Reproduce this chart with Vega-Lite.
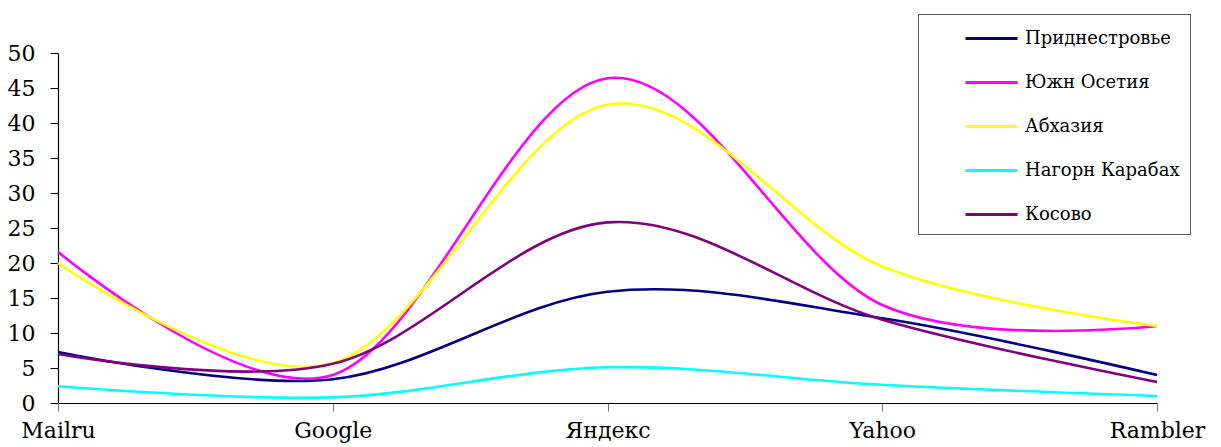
{
  "$schema": "https://vega.github.io/schema/vega-lite/v6.json",
  "width": 1099,
  "height": 350,
  "autosize": {"type": "none"},
  "padding": {"left": 58, "top": 53, "right": 64, "bottom": 44},
  "background": "white",
  "config": {
    "view": {"stroke": null},
    "font": "DejaVu Serif"
  },
  "data": {
    "values": [
      {"series": "Приднестровье", "engine": "Mailru", "value": 7.3},
      {"series": "Приднестровье", "engine": "Google", "value": 3.4},
      {"series": "Приднестровье", "engine": "Яндекс", "value": 15.9},
      {"series": "Приднестровье", "engine": "Yahoo", "value": 12.1},
      {"series": "Приднестровье", "engine": "Rambler", "value": 4},
      {"series": "Южн Осетия", "engine": "Mailru", "value": 21.6},
      {"series": "Южн Осетия", "engine": "Google", "value": 4},
      {"series": "Южн Осетия", "engine": "Яндекс", "value": 46.4},
      {"series": "Южн Осетия", "engine": "Yahoo", "value": 14},
      {"series": "Южн Осетия", "engine": "Rambler", "value": 11},
      {"series": "Абхазия", "engine": "Mailru", "value": 20},
      {"series": "Абхазия", "engine": "Google", "value": 5.7},
      {"series": "Абхазия", "engine": "Яндекс", "value": 42.6},
      {"series": "Абхазия", "engine": "Yahoo", "value": 19.5},
      {"series": "Абхазия", "engine": "Rambler", "value": 11},
      {"series": "Нагорн Карабах", "engine": "Mailru", "value": 2.4},
      {"series": "Нагорн Карабах", "engine": "Google", "value": 0.8},
      {"series": "Нагорн Карабах", "engine": "Яндекс", "value": 5.1},
      {"series": "Нагорн Карабах", "engine": "Yahoo", "value": 2.6},
      {"series": "Нагорн Карабах", "engine": "Rambler", "value": 1},
      {"series": "Косово", "engine": "Mailru", "value": 7},
      {"series": "Косово", "engine": "Google", "value": 5.6},
      {"series": "Косово", "engine": "Яндекс", "value": 25.8},
      {"series": "Косово", "engine": "Yahoo", "value": 11.9},
      {"series": "Косово", "engine": "Rambler", "value": 3}
    ]
  },
  "mark": {"type": "line", "interpolate": "cardinal", "strokeWidth": 2.6},
  "encoding": {
    "x": {
      "field": "engine",
      "type": "ordinal",
      "sort": ["Mailru", "Google", "Яндекс", "Yahoo", "Rambler"],
      "scale": {"type": "point", "padding": 0},
      "axis": {
        "title": null,
        "labelAngle": 0,
        "labelFontSize": 22,
        "labelColor": "black",
        "labelFont": "DejaVu Serif",
        "labelPadding": 9,
        "domainColor": "black",
        "domainWidth": 1.2,
        "tickColor": "#777777",
        "tickSize": 8,
        "grid": false
      }
    },
    "y": {
      "field": "value",
      "type": "quantitative",
      "scale": {"domain": [0, 50], "nice": false},
      "axis": {
        "title": null,
        "values": [0, 5, 10, 15, 20, 25, 30, 35, 40, 45, 50],
        "labelFontSize": 22,
        "labelColor": "black",
        "labelFont": "DejaVu Serif",
        "labelPadding": 15,
        "domainColor": "black",
        "domainWidth": 1.2,
        "tickColor": "black",
        "tickSize": 8,
        "grid": false
      }
    },
    "color": {
      "field": "series",
      "type": "nominal",
      "scale": {
        "domain": ["Приднестровье", "Южн Осетия", "Абхазия", "Нагорн Карабах", "Косово"],
        "range": ["#000080", "#FF00FF", "#FFFF00", "#00FFFF", "#800080"]
      },
      "legend": {
        "title": null,
        "orient": "none",
        "legendX": 860,
        "legendY": -39,
        "padding": 10,
        "strokeColor": "#555555",
        "fillColor": "white",
        "symbolType": "M-2,0H2",
        "symbolSize": 676,
        "symbolStrokeWidth": 3,
        "symbolOffset": 49,
        "labelFontSize": 18,
        "labelLimit": 400,
        "labelFont": "DejaVu Serif",
        "labelColor": "black",
        "labelOffset": 19,
        "rowPadding": 20
      }
    }
  }
}
